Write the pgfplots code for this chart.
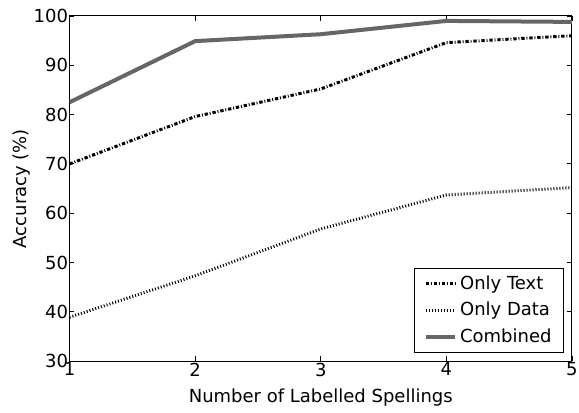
\documentclass[border=0pt]{standalone}
\usepackage{fontspec}
\setmainfont{DejaVu Sans}
\usepackage{pgfplots}
\pgfplotsset{compat=1.18}

\begin{document}
\fontsize{13.5}{16}\selectfont
\begin{tikzpicture}
\begin{axis}[
  scale only axis,
  width=377pt, height=259pt,
  xmin=1, xmax=5, ymin=30, ymax=100,
  xtick={1,2,3,4,5}, ytick={30,40,...,100},
  tick align=inside,
  major tick length=3.5pt,
  tick style={black, line width=0.6pt},
  axis line style={line width=0.75pt},
  xlabel={Number of Labelled Spellings},
  ylabel={Accuracy (\%)},
  xlabel style={yshift=-4pt},
  ylabel style={yshift=-3pt},
  /pgf/number format/assume math mode=true,
  ticklabel style={font=\fontsize{13.5}{16}\selectfont, inner sep=1pt},
  legend style={draw=black, line width=0.6pt, at={(0.984,0.025)}, anchor=south east,
    font=\fontsize{13.5}{16}\selectfont, row sep=3.8pt, inner xsep=7pt, inner ysep=3pt},
  legend cell align=left,
  legend image code/.code={\draw[#1] (0pt,0pt) -- (22pt,0pt);},
  every legend entry/.append style={xshift=2pt},
]
\addplot[black, line width=2.2pt, dash pattern=on 2.5pt off 1.4pt on 0.7pt off 1.4pt]
  coordinates {(1,70.0) (2,79.6) (3,85.2) (4,94.6) (5,96.0)};
\addlegendentry{Only Text}
\addplot[black, line width=2.2pt, dash pattern=on 0.75pt off 1.5pt]
  coordinates {(1,38.9) (2,47.3) (3,56.8) (4,63.7) (5,65.2)};
\addlegendentry{Only Data}
\addplot[black!60, line width=3pt]
  coordinates {(1,82.5) (2,94.9) (3,96.3) (4,99.0) (5,98.8)};
\addlegendentry{Combined}
\end{axis}
\path ([yshift=12pt]current axis.north);
\path ([xshift=-5pt]current axis.outer west);
\end{tikzpicture}
\end{document}
